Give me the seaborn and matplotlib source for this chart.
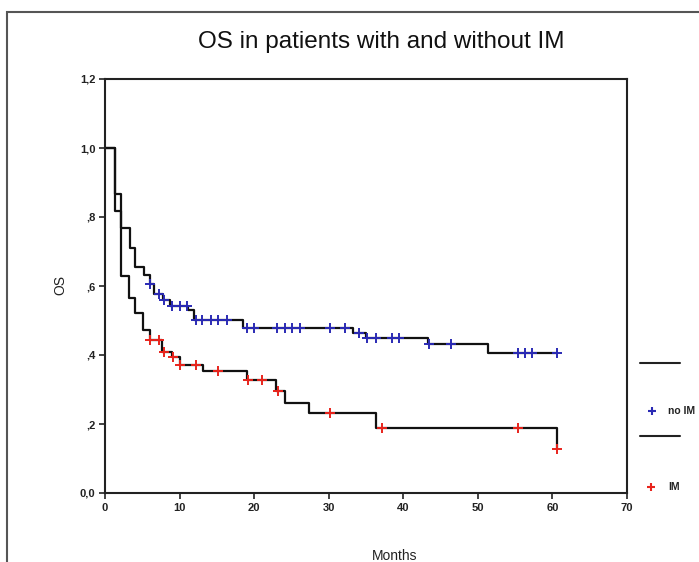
import numpy as np
import pandas as pd
import matplotlib.pyplot as plt
import seaborn as sns
from matplotlib.lines import Line2D
from matplotlib.patches import Rectangle

# Kaplan-Meier steps (months, OS)
no_im_times = [0, 1.35, 2.1, 3.3, 4.0, 5.2, 6.0, 6.6, 7.75, 8.75, 11.1, 12.0, 18.5, 33.2, 35.0, 43.3, 51.4]
no_im_surv = [1.0, 0.866, 0.767, 0.709, 0.656, 0.632, 0.606, 0.578, 0.559, 0.543, 0.530, 0.501, 0.479,
              0.463, 0.448, 0.431, 0.405]
no_im_censored = [6.05, 7.2, 7.9, 9.0, 10.0, 11.0, 12.2, 13.0, 14.2, 15.2, 16.3, 19.1, 20.0, 23.1, 24.1,
                  25.1, 26.2, 30.2, 32.2, 34.1, 35.2, 36.3, 38.5, 39.4, 43.4, 46.4, 55.4, 56.3, 57.3, 60.6]

im_times = [0, 1.35, 2.1, 3.2, 4.0, 5.1, 6.0, 7.6, 9.0, 10.0, 13.2, 19.1, 22.9, 24.1, 27.4, 36.4, 60.6]
im_surv = [1.0, 0.817, 0.629, 0.564, 0.521, 0.473, 0.443, 0.410, 0.395, 0.371, 0.355, 0.328, 0.297,
           0.260, 0.233, 0.188, 0.127]
im_censored = [6.1, 7.2, 7.9, 9.1, 10.1, 12.2, 15.2, 19.2, 21.1, 23.2, 30.2, 37.2, 55.4, 60.6]

x_ticks = [0, 10, 20, 30, 40, 50, 60, 70]
y_ticks = [0.0, 0.2, 0.4, 0.6, 0.8, 1.0, 1.2]
y_tick_labels = ["0,0", ",2", ",4", ",6", ",8", "1,0", "1,2"]

BLUE = "#2a2ab4"
RED = "#e8241c"


def km_frames(times, surv, censored):
    end = max(max(censored), times[-1])
    line = pd.DataFrame({"Months": list(times) + [end], "OS": list(surv) + [surv[-1]]})
    idx = np.searchsorted(times, censored, side="right") - 1
    cens = pd.DataFrame({"Months": censored, "OS": np.asarray(surv)[idx]})
    return line, cens


sns.set_style("white")
plt.rcParams["font.family"] = ["Liberation Sans", "DejaVu Sans"]

fig = plt.figure(figsize=(6.99, 5.62), dpi=100)
ax = fig.add_axes([105 / 699, 1 - 493 / 562, 522 / 699, 414 / 562])

for times, surv, cens_t, col in [(no_im_times, no_im_surv, no_im_censored, BLUE),
                                 (im_times, im_surv, im_censored, RED)]:
    line, cens = km_frames(times, surv, cens_t)
    sns.lineplot(data=line, x="Months", y="OS", drawstyle="steps-post", color="#111111",
                 linewidth=1.6, ax=ax, sort=False)
    sns.scatterplot(data=cens, x="Months", y="OS", marker="+", color=col, s=45,
                    linewidth=1.4, ax=ax, zorder=3)

ax.set_xlim(0, 70)
ax.set_ylim(0, 1.2)
ax.set_xticks(x_ticks)
ax.set_yticks(y_ticks)
ax.set_yticklabels(y_tick_labels)
ax.set_xlabel("")
ax.set_ylabel("")
for sp in ax.spines.values():
    sp.set_visible(True)
    sp.set_color("#222222")
    sp.set_linewidth(1.5)
ax.tick_params(direction="out", length=4, width=1.2, color="#222222", labelsize=8,
               labelcolor="#222222", pad=3, left=True, bottom=True)
for lab in ax.get_xticklabels() + ax.get_yticklabels():
    lab.set_fontweight("bold")

fig.text(381 / 699, 1 - 42 / 562, "OS in patients with and without IM", ha="center", va="center",
         fontsize=17.5, color="#111111")
fig.text(60 / 699, 1 - 285 / 562, "OS", rotation=90, ha="center", va="center", fontsize=10,
         color="#222222")
fig.text(395 / 699, 1 - 556 / 562, "Months", ha="center", va="center", fontsize=10, color="#222222")

# SPSS-style legend at the right
for yp in [363, 436]:
    fig.add_artist(Line2D([640 / 699, 680 / 699], [1 - yp / 562] * 2, color="#222222", lw=1.5))
fig.add_artist(Line2D([652 / 699], [1 - 411 / 562], marker="+", color=BLUE, ms=6, mew=1.5, lw=0))
fig.text(668 / 699, 1 - 411 / 562, "no IM", ha="left", va="center", fontsize=7.5,
         fontweight="bold", color="#222222")
fig.add_artist(Line2D([651 / 699], [1 - 487 / 562], marker="+", color=RED, ms=6, mew=1.5, lw=0))
fig.text(668 / 699, 1 - 487 / 562, "IM", ha="left", va="center", fontsize=7.5,
         fontweight="bold", color="#222222")

# outer frame
top = 1 - 12 / 562
fig.add_artist(Rectangle((7 / 699, -0.2), 1.3, top + 0.2, transform=fig.transFigure,
                         fill=False, edgecolor="#555555", lw=1.5, clip_on=False))

fig.savefig("out.png", dpi=100)
